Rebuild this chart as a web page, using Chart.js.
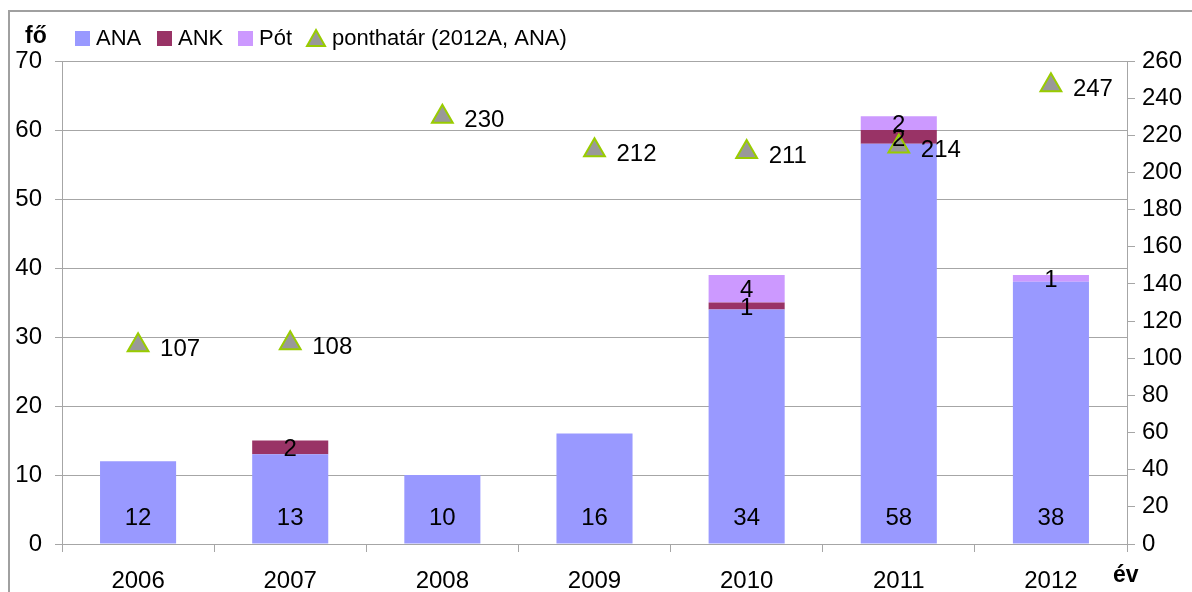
<!DOCTYPE html>
<html>
<head>
<meta charset="utf-8">
<script src="https://cdn.jsdelivr.net/npm/chart.js@4/dist/chart.umd.min.js"></script>
<style>
  html, body { margin: 0; padding: 0; background: #fff; }
  #wrap { width: 1192px; height: 592px; position: relative; }
</style>
</head>
<body>
<div id="wrap"><canvas id="chart" width="1192" height="592"></canvas></div>
<script>
// évek és létszámok
var years = ['2006', '2007', '2008', '2009', '2010', '2011', '2012'];
var ana = [12, 13, 10, 16, 34, 58, 38];
var ank = [0, 2, 0, 0, 1, 2, 0];
var pot = [0, 0, 0, 0, 4, 2, 1];
// ponthatár a jobb oldali tengelyen
var ponthatar = [107, 108, 230, 212, 211, 214, 247];

var FONT = "'Liberation Sans Narrow', 'Liberation Sans', sans-serif";
var GRID = '#a6a6a6';

// feliratok az oszlopokon és a pontok mellett, jelmagyarázat, keret
var labelPlugin = {
    id: 'labels',
    afterDatasetsDraw: function (chart) {
        var ctx = chart.ctx;
        var yZero = chart.scales.y.getPixelForValue(0);
        ctx.save();
        ctx.fillStyle = '#000';
        ctx.font = '24px ' + FONT;
        chart.data.datasets.forEach(function (ds, i) {
            var meta = chart.getDatasetMeta(i);
            meta.data.forEach(function (el, j) {
                var v = ds.data[j];
                if (!v) return;
                ctx.textBaseline = 'middle';
                if (ds.type === 'line') {
                    ctx.textAlign = 'left';
                    ctx.fillText(String(v), el.x + 22, el.y + 4);
                } else if (i === 0) {
                    ctx.textAlign = 'center';
                    ctx.fillText(String(v), el.x, yZero - 26);
                } else {
                    ctx.textAlign = 'center';
                    ctx.fillText(String(v), el.x, (el.y + el.base) / 2 + 2);
                }
            });
        });
        ctx.restore();
    },
    afterDraw: function (chart) {
        var ctx = chart.ctx;
        ctx.save();
        // külső keret
        ctx.strokeStyle = '#a0a0a0';
        ctx.lineWidth = 2;
        ctx.beginPath();
        ctx.moveTo(9, 600);
        ctx.lineTo(9, 11);
        ctx.lineTo(1200, 11);
        ctx.stroke();

        // tengelycímek
        ctx.fillStyle = '#000';
        ctx.font = 'bold 23px ' + FONT;
        ctx.textBaseline = 'middle';
        ctx.textAlign = 'left';
        ctx.fillText('fő', 25, 37);
        ctx.fillText('év', 1113, 576);

        // jelmagyarázat
        var cy = 38;
        var xs = [75, 157, 238];
        ctx.font = '22px ' + FONT;
        for (var i = 0; i < 3; i++) {
            var ds = chart.data.datasets[i];
            ctx.fillStyle = ds.backgroundColor;
            ctx.fillRect(xs[i], cy - 7, 15, 15);
            ctx.fillStyle = '#000';
            ctx.fillText(ds.label, xs[i] + 21, cy + 1);
        }
        var lds = chart.data.datasets[3];
        ctx.beginPath();
        ctx.moveTo(316, cy - 8);
        ctx.lineTo(325, cy + 8);
        ctx.lineTo(307, cy + 8);
        ctx.closePath();
        ctx.fillStyle = lds.pointBackgroundColor;
        ctx.fill();
        ctx.strokeStyle = lds.pointBorderColor;
        ctx.lineWidth = 2;
        ctx.stroke();
        ctx.fillStyle = '#000';
        ctx.fillText(lds.label, 332, cy + 1);
        ctx.restore();
    }
};

var chartArea = document.getElementById('chart').getContext('2d');
var myChart = new Chart(chartArea, {
    type: 'bar',
    data: {
        labels: years,
        datasets: [{
            label: 'ANA',
            data: ana,
            backgroundColor: '#9999ff',
            barPercentage: 0.5,
            categoryPercentage: 1,
            order: 2
        }, {
            label: 'ANK',
            data: ank,
            backgroundColor: '#993366',
            barPercentage: 0.5,
            categoryPercentage: 1,
            order: 2
        }, {
            label: 'Pót',
            data: pot,
            backgroundColor: '#cc99ff',
            barPercentage: 0.5,
            categoryPercentage: 1,
            order: 2
        }, {
            type: 'line',
            label: 'ponthatár (2012A, ANA)',
            data: ponthatar,
            yAxisID: 'y1',
            showLine: false,
            pointStyle: 'triangle',
            pointRadius: 12,
            pointBorderWidth: 2,
            pointBackgroundColor: '#999999',
            pointBorderColor: '#99cc00',
            order: 1
        }]
    },
    options: {
        responsive: false,
        animation: false,
        layout: { padding: { top: 61, left: 0, right: 0, bottom: 0 } },
        plugins: {
            legend: { display: false },
            tooltip: { enabled: false }
        },
        scales: {
            x: {
                stacked: true,
                offset: true,
                grid: { drawOnChartArea: false, offset: true, tickLength: 8, color: GRID },
                border: { color: GRID },
                ticks: { color: '#000', padding: 15, font: { family: FONT, size: 24 } },
                afterFit: function (s) { s.height = 48; }
            },
            y: {
                stacked: true,
                min: 0,
                max: 70,
                ticks: { stepSize: 10, color: '#000', padding: 13, font: { family: FONT, size: 24 } },
                grid: { color: GRID, tickLength: 7 },
                border: { color: GRID },
                afterFit: function (s) { s.width = 62; }
            },
            y1: {
                position: 'right',
                stacked: false,
                min: 0,
                max: 260,
                ticks: { stepSize: 20, color: '#000', padding: 7, font: { family: FONT, size: 24 } },
                grid: { drawOnChartArea: false, color: GRID, tickLength: 8 },
                border: { color: GRID },
                afterFit: function (s) { s.width = 65; }
            }
        }
    },
    plugins: [labelPlugin]
});
</script>
</body>
</html>
